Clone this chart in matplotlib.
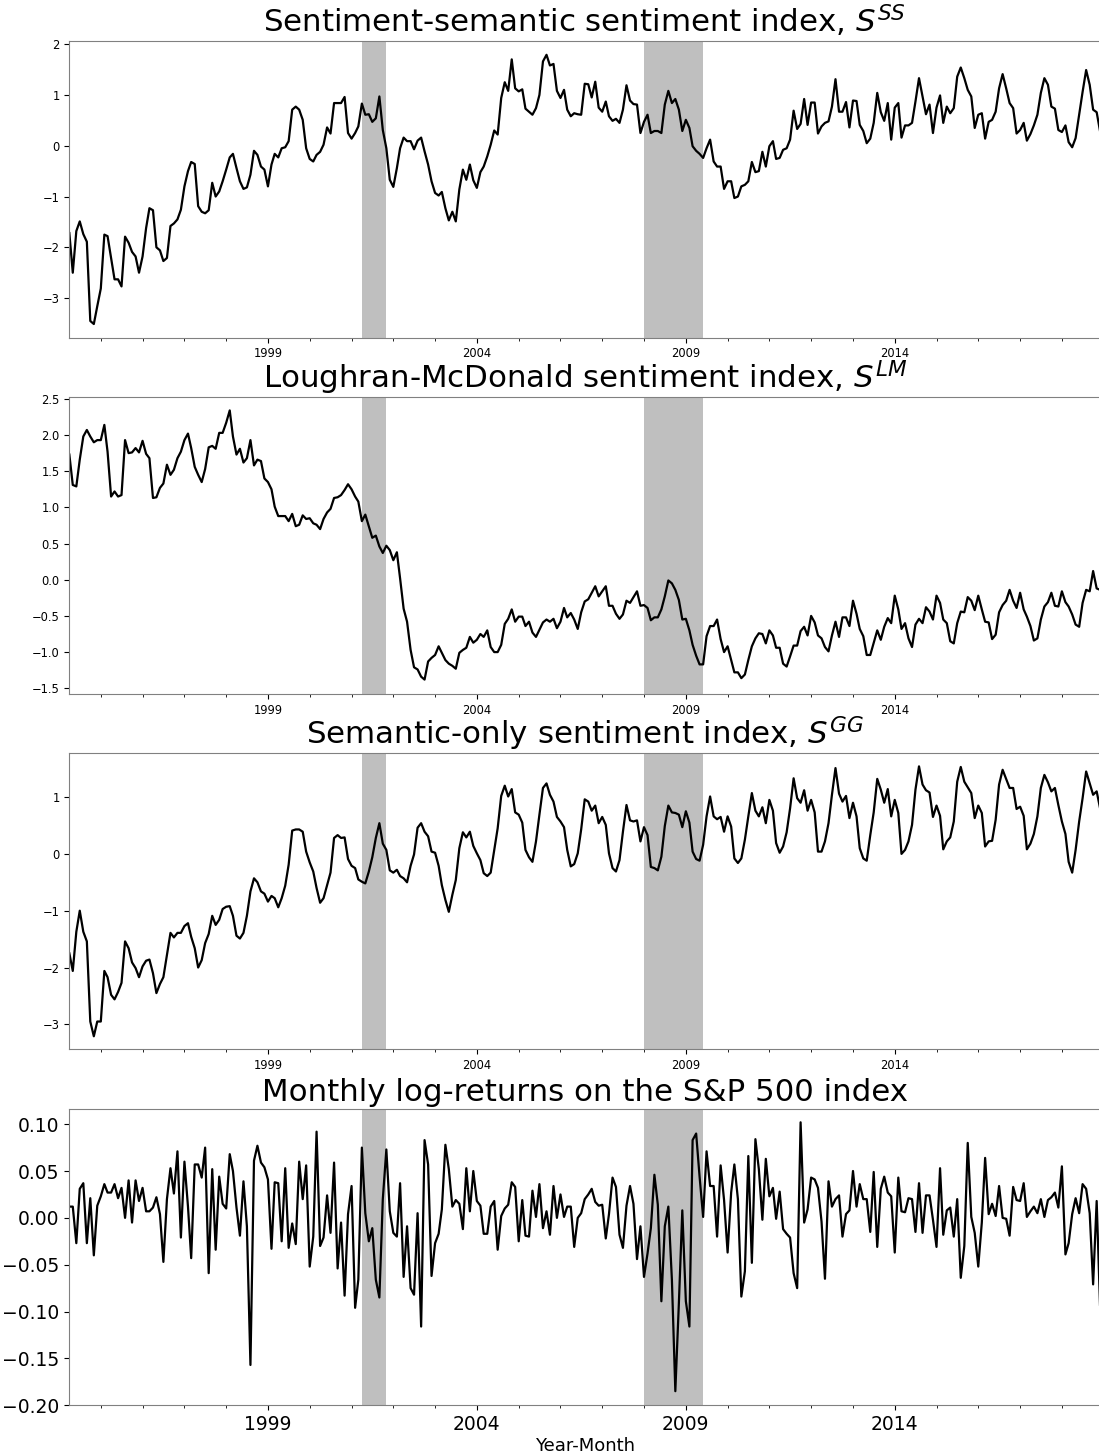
import pandas as pd
import matplotlib
matplotlib.use("Agg")
import matplotlib.pyplot as plt
import matplotlib.dates as mdates

# monthly observations, 1994-04 .. 2018-12
months = pd.date_range("1994-04-01", periods=297, freq="MS")

ss_index = [
    -1.72, -2.50, -1.68, -1.49, -1.74, -1.89, -3.45, -3.51, -3.16, -2.81,
    -1.75, -1.78, -2.21, -2.63, -2.63, -2.77, -1.79, -1.91, -2.09, -2.18,
    -2.50, -2.18, -1.62, -1.23, -1.27, -2.00, -2.06, -2.27, -2.21, -1.58,
    -1.53, -1.45, -1.26, -0.80, -0.50, -0.32, -0.36, -1.19, -1.30, -1.33,
    -1.27, -0.73, -1.00, -0.90, -0.70, -0.47, -0.23, -0.16, -0.44, -0.70,
    -0.85, -0.82, -0.57, -0.10, -0.18, -0.41, -0.47, -0.80, -0.37, -0.16,
    -0.23, -0.05, -0.03, 0.09, 0.71, 0.77, 0.71, 0.51, -0.05, -0.26,
    -0.31, -0.18, -0.12, 0.02, 0.36, 0.24, 0.84, 0.84, 0.84, 0.96,
    0.25, 0.14, 0.25, 0.38, 0.83, 0.61, 0.62, 0.47, 0.54, 0.97,
    0.31, -0.05, -0.67, -0.81, -0.44, -0.05, 0.16, 0.09, 0.09, -0.07,
    0.10, 0.16, -0.11, -0.37, -0.70, -0.93, -0.98, -0.91, -1.23, -1.47,
    -1.30, -1.49, -0.86, -0.47, -0.67, -0.37, -0.68, -0.83, -0.52, -0.41,
    -0.21, 0.02, 0.30, 0.22, 0.94, 1.25, 1.08, 1.70, 1.13, 1.07,
    1.11, 0.73, 0.67, 0.61, 0.74, 1.00, 1.66, 1.79, 1.58, 1.61,
    1.08, 0.94, 1.10, 0.71, 0.58, 0.64, 0.62, 0.61, 1.22, 1.21,
    0.95, 1.26, 0.75, 0.67, 0.87, 0.58, 0.49, 0.53, 0.45, 0.71,
    1.19, 0.89, 0.82, 0.81, 0.25, 0.47, 0.61, 0.25, 0.29, 0.29,
    0.25, 0.81, 1.08, 0.84, 0.92, 0.71, 0.29, 0.51, 0.35, -0.01,
    -0.10, -0.16, -0.24, -0.05, 0.12, -0.31, -0.41, -0.41, -0.85, -0.70,
    -0.70, -1.03, -1.00, -0.80, -0.77, -0.70, -0.32, -0.52, -0.50, -0.12,
    -0.41, -0.01, 0.09, -0.26, -0.24, -0.08, -0.05, 0.12, 0.69, 0.33,
    0.43, 0.92, 0.41, 0.85, 0.85, 0.24, 0.38, 0.45, 0.48, 0.77,
    1.31, 0.67, 0.67, 0.86, 0.36, 0.89, 0.88, 0.41, 0.29, 0.05,
    0.14, 0.45, 1.04, 0.66, 0.49, 0.84, 0.12, 0.75, 0.84, 0.16,
    0.40, 0.40, 0.45, 0.87, 1.33, 0.97, 0.62, 0.81, 0.25, 0.75,
    0.99, 0.45, 0.77, 0.64, 0.74, 1.36, 1.54, 1.33, 1.10, 0.97,
    0.35, 0.61, 0.64, 0.14, 0.47, 0.51, 0.67, 1.13, 1.41, 1.13,
    0.84, 0.74, 0.24, 0.31, 0.45, 0.10, 0.23, 0.40, 0.61, 1.04,
    1.33, 1.20, 0.77, 0.73, 0.31, 0.27, 0.40, 0.07, -0.03, 0.15,
    0.61, 1.06, 1.49, 1.20, 0.71, 0.66, 0.28,
]

lm_index = [
    1.73, 1.31, 1.29, 1.66, 1.98, 2.07, 1.98, 1.90, 1.93, 1.93,
    2.14, 1.77, 1.15, 1.22, 1.15, 1.17, 1.93, 1.75, 1.76, 1.82,
    1.76, 1.92, 1.74, 1.68, 1.13, 1.14, 1.27, 1.33, 1.59, 1.45,
    1.52, 1.68, 1.77, 1.93, 2.02, 1.82, 1.56, 1.45, 1.35, 1.53,
    1.83, 1.85, 1.81, 2.03, 2.03, 2.17, 2.34, 1.98, 1.73, 1.81,
    1.62, 1.68, 1.93, 1.58, 1.66, 1.64, 1.40, 1.35, 1.25, 1.01,
    0.88, 0.88, 0.88, 0.81, 0.91, 0.74, 0.76, 0.89, 0.84, 0.85,
    0.78, 0.76, 0.70, 0.84, 0.93, 0.98, 1.13, 1.14, 1.17, 1.24,
    1.32, 1.25, 1.15, 1.08, 0.81, 0.90, 0.74, 0.58, 0.61, 0.46,
    0.37, 0.47, 0.41, 0.27, 0.38, 0.02, -0.40, -0.58, -0.97, -1.21,
    -1.24, -1.34, -1.38, -1.13, -1.08, -1.04, -0.92, -1.01, -1.11, -1.16,
    -1.19, -1.23, -1.01, -0.97, -0.94, -0.79, -0.87, -0.83, -0.75, -0.79,
    -0.70, -0.93, -1.00, -1.00, -0.90, -0.61, -0.54, -0.41, -0.58, -0.51,
    -0.51, -0.64, -0.58, -0.73, -0.79, -0.69, -0.59, -0.55, -0.58, -0.54,
    -0.67, -0.58, -0.39, -0.52, -0.46, -0.55, -0.68, -0.45, -0.30, -0.27,
    -0.18, -0.09, -0.23, -0.16, -0.09, -0.36, -0.36, -0.47, -0.54, -0.48,
    -0.29, -0.32, -0.24, -0.16, -0.36, -0.35, -0.39, -0.56, -0.52, -0.52,
    -0.41, -0.23, -0.01, -0.05, -0.14, -0.28, -0.55, -0.54, -0.70, -0.90,
    -1.05, -1.17, -1.17, -0.78, -0.64, -0.64, -0.55, -0.82, -1.00, -0.92,
    -1.11, -1.28, -1.28, -1.36, -1.31, -1.11, -0.92, -0.81, -0.74, -0.75,
    -0.88, -0.70, -0.77, -0.94, -0.94, -1.16, -1.20, -1.06, -0.91, -0.91,
    -0.71, -0.65, -0.77, -0.50, -0.59, -0.77, -0.81, -0.93, -0.99, -0.77,
    -0.58, -0.79, -0.52, -0.52, -0.64, -0.29, -0.47, -0.68, -0.78, -1.04,
    -1.04, -0.87, -0.70, -0.83, -0.65, -0.53, -0.60, -0.22, -0.41, -0.68,
    -0.60, -0.81, -0.93, -0.62, -0.54, -0.60, -0.38, -0.44, -0.55, -0.22,
    -0.32, -0.55, -0.60, -0.85, -0.88, -0.60, -0.44, -0.45, -0.24, -0.29,
    -0.42, -0.22, -0.41, -0.58, -0.59, -0.82, -0.76, -0.45, -0.35, -0.29,
    -0.14, -0.29, -0.39, -0.18, -0.41, -0.51, -0.64, -0.84, -0.81, -0.55,
    -0.37, -0.31, -0.18, -0.36, -0.37, -0.16, -0.31, -0.37, -0.48, -0.62,
    -0.65, -0.32, -0.14, -0.16, 0.12, -0.12, -0.14,
]

gg_index = [
    -1.75, -2.06, -1.37, -1.00, -1.37, -1.54, -2.95, -3.21, -2.95, -2.95,
    -2.06, -2.17, -2.48, -2.56, -2.43, -2.27, -1.54, -1.66, -1.91, -2.01,
    -2.17, -1.98, -1.88, -1.86, -2.10, -2.45, -2.29, -2.17, -1.78, -1.39,
    -1.47, -1.39, -1.39, -1.27, -1.22, -1.46, -1.66, -2.00, -1.87, -1.57,
    -1.41, -1.09, -1.25, -1.16, -0.97, -0.93, -0.92, -1.09, -1.44, -1.49,
    -1.39, -1.09, -0.66, -0.43, -0.50, -0.66, -0.70, -0.84, -0.74, -0.78,
    -0.94, -0.78, -0.56, -0.19, 0.41, 0.43, 0.43, 0.39, 0.04, -0.15,
    -0.31, -0.60, -0.86, -0.78, -0.55, -0.33, 0.28, 0.33, 0.28, 0.29,
    -0.09, -0.21, -0.25, -0.45, -0.49, -0.52, -0.31, -0.06, 0.28, 0.54,
    0.18, 0.07, -0.29, -0.33, -0.28, -0.39, -0.43, -0.50, -0.21, -0.01,
    0.46, 0.54, 0.39, 0.31, 0.04, 0.02, -0.21, -0.55, -0.81, -1.02,
    -0.72, -0.46, 0.10, 0.38, 0.29, 0.39, 0.14, 0.01, -0.11, -0.34,
    -0.39, -0.33, 0.07, 0.45, 1.02, 1.20, 1.01, 1.14, 0.73, 0.69,
    0.55, 0.07, -0.06, -0.14, 0.22, 0.69, 1.16, 1.24, 1.04, 0.92,
    0.65, 0.57, 0.47, 0.07, -0.22, -0.18, 0.01, 0.43, 0.96, 0.92,
    0.76, 0.85, 0.54, 0.65, 0.51, 0.01, -0.25, -0.31, -0.11, 0.39,
    0.86, 0.59, 0.57, 0.59, 0.22, 0.47, 0.33, -0.23, -0.25, -0.29,
    -0.05, 0.49, 0.85, 0.73, 0.72, 0.69, 0.47, 0.75, 0.55, 0.04,
    -0.09, -0.12, 0.16, 0.66, 1.01, 0.66, 0.61, 0.65, 0.39, 0.66,
    0.48, -0.08, -0.16, -0.08, 0.25, 0.66, 1.07, 0.76, 0.66, 0.82,
    0.54, 0.95, 0.76, 0.19, 0.02, 0.13, 0.38, 0.80, 1.33, 0.98,
    0.90, 1.12, 0.76, 0.95, 0.73, 0.04, 0.04, 0.22, 0.54, 1.04,
    1.51, 1.06, 0.92, 1.02, 0.63, 0.90, 0.66, 0.10, -0.08, -0.12,
    0.33, 0.73, 1.32, 1.13, 0.90, 1.14, 0.66, 0.95, 0.72, 0.00,
    0.07, 0.22, 0.51, 1.13, 1.54, 1.22, 1.12, 1.08, 0.65, 0.85,
    0.67, 0.08, 0.22, 0.29, 0.57, 1.27, 1.53, 1.27, 1.17, 1.07,
    0.63, 0.85, 0.72, 0.13, 0.22, 0.23, 0.60, 1.22, 1.48, 1.32,
    1.16, 1.16, 0.79, 0.83, 0.67, 0.08, 0.18, 0.35, 0.66, 1.16,
    1.39, 1.26, 1.10, 1.16, 0.86, 0.57, 0.35, -0.14, -0.33, 0.07,
    0.57, 0.98, 1.45, 1.24, 1.04, 1.10, 0.80,
]

sp500_returns = [
    0.012, 0.012, -0.027, 0.031, 0.037, -0.027, 0.021, -0.040, 0.013, 0.023,
    0.036, 0.027, 0.027, 0.036, 0.021, 0.032, 0.000, 0.040, -0.005, 0.040,
    0.018, 0.032, 0.007, 0.007, 0.011, 0.022, 0.004, -0.047, 0.020, 0.053,
    0.026, 0.071, -0.021, 0.060, 0.012, -0.043, 0.057, 0.057, 0.043, 0.075,
    -0.059, 0.052, -0.034, 0.044, 0.015, 0.010, 0.068, 0.050, 0.011, -0.019,
    0.039, -0.009, -0.157, 0.061, 0.077, 0.059, 0.054, 0.041, -0.033, 0.038,
    0.037, -0.025, 0.053, -0.032, -0.006, -0.028, 0.060, 0.020, 0.056, -0.052,
    -0.020, 0.092, -0.030, -0.021, 0.024, -0.016, 0.059, -0.054, -0.005, -0.083,
    0.004, 0.034, -0.096, -0.066, 0.075, 0.005, -0.025, -0.011, -0.066, -0.085,
    0.020, 0.073, 0.007, -0.016, -0.020, 0.037, -0.063, -0.009, -0.075, -0.082,
    0.005, -0.116, 0.083, 0.057, -0.062, -0.027, -0.017, 0.009, 0.078, 0.052,
    0.012, 0.019, 0.015, -0.012, 0.053, 0.007, 0.050, 0.018, 0.013, -0.017,
    -0.017, 0.012, 0.018, -0.034, 0.002, 0.010, 0.014, 0.038, 0.033, -0.025,
    0.019, -0.019, -0.020, 0.029, 0.001, 0.036, -0.011, 0.007, -0.018, 0.034,
    0.000, 0.025, 0.001, 0.012, 0.012, -0.031, 0.000, 0.005, 0.020, 0.025,
    0.031, 0.017, 0.013, 0.014, -0.022, 0.004, 0.043, 0.033, -0.018, -0.032,
    0.013, 0.034, 0.015, -0.044, -0.009, -0.063, -0.038, -0.011, 0.046, 0.014,
    -0.089, -0.009, 0.012, -0.066, -0.185, -0.091, 0.008, -0.089, -0.116, 0.083,
    0.090, 0.044, 0.001, 0.071, 0.034, 0.034, -0.020, 0.056, 0.019, -0.037,
    0.027, 0.057, 0.020, -0.084, -0.057, 0.066, -0.048, 0.084, 0.052, -0.002,
    0.063, 0.023, 0.032, -0.001, 0.028, -0.012, -0.017, -0.021, -0.059, -0.075,
    0.102, -0.005, 0.009, 0.043, 0.041, 0.032, -0.004, -0.065, 0.039, 0.012,
    0.020, 0.024, -0.020, 0.004, 0.008, 0.050, 0.012, 0.036, 0.020, 0.020,
    -0.015, 0.049, -0.031, 0.031, 0.044, 0.027, 0.023, -0.037, 0.043, 0.007,
    0.006, 0.021, 0.020, -0.015, 0.037, -0.016, 0.024, 0.024, -0.002, -0.031,
    0.053, -0.018, 0.008, 0.011, -0.020, 0.020, -0.064, -0.030, 0.080, 0.001,
    -0.016, -0.052, -0.005, 0.064, 0.004, 0.015, 0.002, 0.034, 0.000, -0.001,
    -0.019, 0.033, 0.019, 0.018, 0.037, 0.001, 0.007, 0.012, 0.005, 0.020,
    0.001, 0.019, 0.022, 0.027, 0.011, 0.055, -0.039, -0.027, 0.004, 0.021,
    0.005, 0.036, 0.031, 0.005, -0.071, 0.018, -0.096,
]

recessions = [("2001-04-01", "2001-11-01"), ("2008-01-01", "2009-06-01")]
year_labels = [1999, 2004, 2009, 2014]

titles = [
    r"Sentiment-semantic sentiment index, $S^{SS}$",
    r"Loughran-McDonald sentiment index, $S^{LM}$",
    r"Semantic-only sentiment index, $S^{GG}$",
    "Monthly log-returns on the S&P 500 index",
]
y_ticks = [
    [-3, -2, -1, 0, 1, 2],
    [-1.5, -1.0, -0.5, 0.0, 0.5, 1.0, 1.5, 2.0, 2.5],
    [-3, -2, -1, 0, 1],
    [-0.20, -0.15, -0.10, -0.05, 0.00, 0.05, 0.10],
]
y_limits = [(-3.78, 2.06), (-1.58, 2.52), (-3.44, 1.77), (-0.20, 0.116)]


def PlotPanel(ax, values, title, ylim, yticks, tick_size):
    ax.plot(months, values, color="black", linewidth=1.6)
    for start, end in recessions:
        ax.axvspan(pd.Timestamp(start), pd.Timestamp(end),
                   color="grey", alpha=0.5, linewidth=0)
    ax.set_xlim(months[0], months[-1])
    ax.set_ylim(*ylim)
    ax.set_yticks(yticks)
    ax.set_xticks([pd.Timestamp(year=y, month=1, day=1) for y in year_labels])
    ax.xaxis.set_major_formatter(mdates.DateFormatter("%Y"))
    ax.xaxis.set_minor_locator(mdates.YearLocator(1))
    ax.tick_params(axis="both", which="major", labelsize=tick_size)
    ax.set_title(title, fontsize=22.2)
    for spine in ax.spines.values():
        spine.set_color("#808080")


fig = plt.figure(figsize=(10.99, 14.52), dpi=100)

series = [ss_index, lm_index, gg_index, sp500_returns]
bottoms = [0.7674, 0.5220, 0.2773, 0.0322]
heights = [0.2043, 0.2043, 0.2039, 0.2039]

for k in range(4):
    ax = fig.add_axes([0.0631, bottoms[k], 0.9379, heights[k]])
    size = 13.5 if k == 3 else 8.3
    PlotPanel(ax, series[k], titles[k], y_limits[k], y_ticks[k], size)
    if k == 3:
        ax.set_xlabel("Year-Month", fontsize=13, labelpad=2)

fig.savefig("out.png", dpi=100)
